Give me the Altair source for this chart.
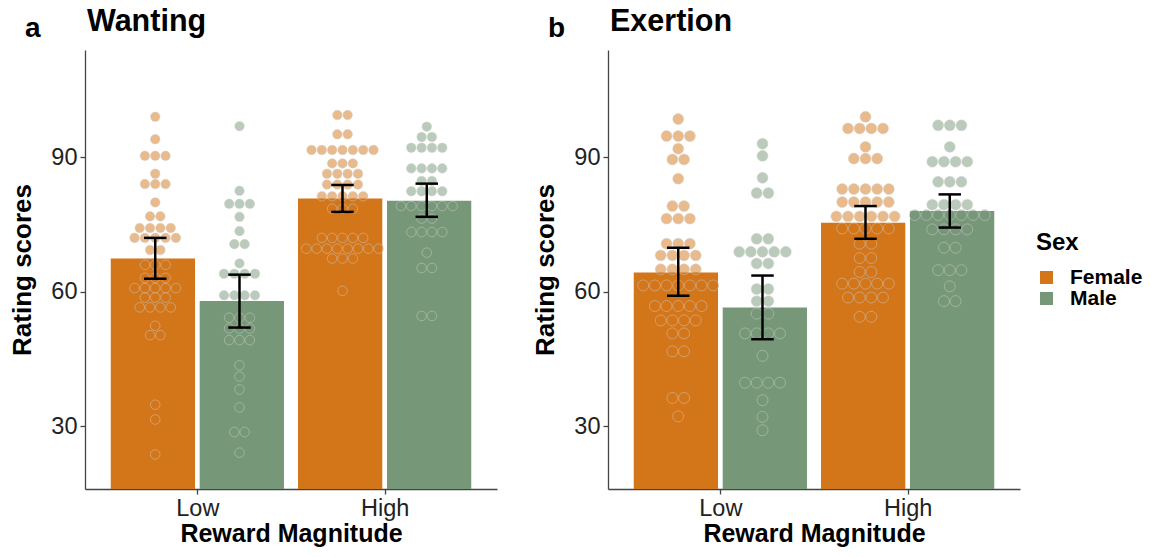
import altair as alt
import pandas as pd

FONT = "Liberation Sans"

panels = ["Wanting", "Exertion"]
panel_letters = ["a", "b"]
magnitudes = ["Low", "High"]
sexes = ["Female", "Male"]
sex_colors = ["#D37519", "#779878"]

# bar order: Low-Female, Low-Male, High-Female, High-Male
wanting_means = [67.4, 57.9, 80.8, 80.3]
wanting_ci_low = [62.9, 52.0, 77.8, 76.7]
wanting_ci_high = [72.0, 63.8, 83.8, 84.1]
exertion_means = [64.3, 56.5, 75.4, 78.0]
exertion_ci_low = [59.1, 49.4, 71.8, 74.3]
exertion_ci_high = [69.8, 63.6, 79.1, 81.7]

# individual rating scores (dot plots)
wanting_low_female = [99.0, 94.0, 90.3, 90.3, 90.3, 86.3, 84.0, 84.0, 84.0, 79.9,
                      76.8, 76.8, 74.2, 74.2, 74.2, 74.2, 72.0, 72.0, 72.0, 72.0, 72.0,
                      69.3, 69.3, 66.0, 66.0, 66.0, 63.1, 63.1, 63.1,
                      60.8, 60.8, 60.8, 60.8, 60.8, 58.7, 58.7, 58.7,
                      56.5, 56.5, 56.5, 56.5, 52.4, 50.3, 50.3, 34.8, 31.5, 23.7]
wanting_low_male = [96.9, 82.5, 79.6, 79.6, 79.6, 76.7, 73.5, 70.6, 70.6, 66.3,
                    64.0, 64.0, 64.0, 64.0, 59.2, 59.2, 59.2, 59.2, 54.2, 54.2, 54.2,
                    51.8, 51.8, 51.8, 49.2, 49.2, 49.2, 43.6, 41.1, 38.2, 34.2,
                    28.7, 28.7, 24.1]
wanting_high_female = [99.4, 99.4, 95.1, 95.1, 91.6, 91.6, 91.6, 91.6, 91.6, 91.6, 91.6,
                       88.6, 88.6, 88.6, 86.3, 86.3, 86.3, 86.3, 83.9, 83.9, 83.9, 83.9,
                       81.3, 81.3, 81.3, 81.3, 81.3, 78.5, 78.5, 78.5,
                       72.0, 72.0, 72.0, 72.0, 72.0,
                       69.6, 69.6, 69.6, 69.6, 69.6, 69.6, 69.6, 69.6,
                       67.4, 67.4, 67.4, 60.2]
wanting_high_male = [96.8, 94.5, 94.5, 92.1, 92.1, 92.1, 92.1, 87.5, 87.5, 87.5, 87.5,
                     84.7, 84.7, 82.4, 82.4, 82.4, 82.4, 79.1, 79.1, 79.1, 79.1, 79.1, 79.1,
                     76.3, 76.3, 73.3, 73.3, 73.3, 73.3, 68.7, 65.3, 65.3, 54.6, 54.6]
exertion_low_female = [98.5, 94.7, 94.7, 94.7, 91.9, 89.5, 89.5, 85.2, 79.1, 79.1,
                       76.3, 76.3, 76.3, 70.7, 70.7, 70.7, 68.1, 68.1, 68.1, 68.1,
                       65.0, 65.0, 65.0, 65.0, 61.4, 61.4, 61.4, 61.4, 61.4, 61.4, 61.4,
                       56.8, 56.8, 56.8, 56.8, 56.8, 53.6, 53.6, 53.6, 53.6,
                       50.7, 50.7, 46.7, 46.7, 36.3, 36.3, 32.2]
exertion_low_male = [93.0, 90.3, 85.4, 82.0, 82.0, 71.8, 71.8, 68.9, 68.9, 68.9, 68.9, 68.9,
                     66.3, 66.3, 60.6, 60.6, 57.9, 57.9, 55.1, 55.1,
                     50.7, 50.7, 50.7, 50.7, 45.7, 39.7, 39.7, 39.7, 39.7, 35.8, 32.1, 29.1]
exertion_high_female = [99.0, 96.4, 96.4, 96.4, 96.4, 92.3, 89.7, 89.7, 89.7,
                        82.9, 82.9, 82.9, 82.9, 82.9, 80.0, 80.0, 80.0, 80.0, 80.0,
                        76.8, 76.8, 76.8, 76.8, 76.8, 76.8, 74.1, 74.1, 74.1, 74.1, 74.1,
                        70.7, 70.7, 67.5, 67.5, 64.4, 64.4, 61.8, 61.8, 61.8, 61.8, 61.8,
                        58.7, 58.7, 58.7, 58.7, 54.4, 54.4]
exertion_high_male = [97.1, 97.1, 97.1, 92.3, 89.0, 89.0, 89.0, 89.0, 84.5, 84.5, 84.5,
                      79.4, 79.4, 79.4, 79.4, 77.1, 77.1, 77.1, 77.1, 77.1, 77.1, 77.1,
                      73.9, 73.9, 73.9, 73.9, 69.8, 69.8, 64.8, 64.8, 64.8, 61.2, 57.9, 57.9]

panel_data = {
    "Wanting": dict(means=wanting_means, lo=wanting_ci_low, hi=wanting_ci_high,
                    dots=[wanting_low_female, wanting_low_male, wanting_high_female, wanting_high_male],
                    spacing=0.0552, size=92),
    "Exertion": dict(means=exertion_means, lo=exertion_ci_low, hi=exertion_ci_high,
                     dots=[exertion_low_female, exertion_low_male, exertion_high_female, exertion_high_male],
                     spacing=0.0623, size=120),
}

color_scale = alt.Scale(domain=sexes, range=sex_colors)
legend = alt.Legend(title="Sex", orient="none", legendX=951, legendY=181,
                    titleFont=FONT, titleFontSize=24, titleFontWeight="bold", titleColor="black",
                    labelFont=FONT, labelFontSize=21, labelFontWeight="bold", labelColor="black",
                    symbolType="square", symbolSize=169, symbolStrokeWidth=0, symbolOpacity=1,
                    labelOffset=13, rowPadding=-2, titlePadding=12)

x_scale = alt.Scale(domain=[-0.6, 1.6], nice=False, zero=False)
y_scale = alt.Scale(domain=[16.0, 113.9], nice=False, zero=False)

MAG_IDX = "(datum.mag == 'Low' ? 0 : 1)"
SIGN = "(datum.sex == 'Female' ? -1 : 1)"


def make_panel(name, letter):
    p = panel_data[name]
    groups = [(m, s) for m in magnitudes for s in sexes]
    bar_df = pd.DataFrame({
        "mag": [g[0] for g in groups],
        "sex": [g[1] for g in groups],
        "mean": p["means"], "lo": p["lo"], "hi": p["hi"],
    })
    dot_rows = []
    for (m, s), vals in zip(groups, p["dots"]):
        for v in vals:
            dot_rows.append({"mag": m, "sex": s, "value": v})
    dot_df = pd.DataFrame(dot_rows)

    x_axis = alt.Axis(values=[0, 1], labelExpr="datum.value == 0 ? 'Low' : 'High'",
                      title="Reward Magnitude", grid=False, tickSize=5, tickColor="#444",
                      domainColor="#444", domainWidth=1.3, tickWidth=1.3,
                      labelFont=FONT, labelFontSize=23.5, labelColor="#222", labelPadding=2,
                      titleFont=FONT, titleFontSize=25, titleFontWeight="bold", titleColor="black",
                      titlePadding=2)
    y_axis = alt.Axis(values=[30, 60, 90], title="Rating scores", grid=False, tickSize=5,
                      tickColor="#444", domainColor="#444", domainWidth=1.3, tickWidth=1.3,
                      labelFont=FONT, labelFontSize=23.5, labelColor="#222", labelPadding=3,
                      titleFont=FONT, titleFontSize=26, titleFontWeight="bold", titleColor="black",
                      titlePadding=15)

    bars = alt.Chart(bar_df).transform_calculate(
        xc=f"{MAG_IDX} + {SIGN} * 0.2375"
    ).transform_calculate(
        xa="datum.xc - 0.225", xb="datum.xc + 0.225"
    ).mark_bar(clip=True).encode(
        x=alt.X("xa:Q", scale=x_scale, axis=x_axis),
        x2="xb:Q",
        y=alt.Y("mean:Q", scale=y_scale, axis=y_axis),
        y2=alt.datum(0),
        color=alt.Color("sex:N", scale=color_scale, legend=legend),
    )

    dots = alt.Chart(dot_df).transform_window(
        n="count()", k="row_number()", groupby=["mag", "sex", "value"], frame=[None, None]
    ).transform_calculate(
        xd=f"{MAG_IDX} + {SIGN} * 0.225 + (datum.k - 1 - (datum.n - 1) / 2) * {p['spacing']}"
    ).mark_point(filled=True, shape="circle", size=p["size"], fillOpacity=0.5,
                 stroke="#d0d0d0", strokeOpacity=0.45, strokeWidth=1).encode(
        x=alt.X("xd:Q", scale=x_scale, axis=x_axis),
        y=alt.Y("value:Q", scale=y_scale, axis=y_axis),
        color=alt.Color("sex:N", scale=color_scale, legend=legend),
    )

    err_base = alt.Chart(bar_df).transform_calculate(
        xe=f"{MAG_IDX} + {SIGN} * 0.225"
    ).transform_calculate(
        xl="datum.xe - 0.06", xr="datum.xe + 0.06"
    )
    err_v = err_base.mark_rule(color="black", strokeWidth=2.5).encode(
        x=alt.X("xe:Q", scale=x_scale), y=alt.Y("lo:Q", scale=y_scale), y2="hi:Q")
    err_top = err_base.mark_rule(color="black", strokeWidth=2.5).encode(
        x=alt.X("xl:Q", scale=x_scale), x2="xr:Q", y=alt.Y("hi:Q", scale=y_scale))
    err_bot = err_base.mark_rule(color="black", strokeWidth=2.5).encode(
        x=alt.X("xl:Q", scale=x_scale), x2="xr:Q", y=alt.Y("lo:Q", scale=y_scale))

    label_df = pd.DataFrame({"letter": [letter], "name": [name]})
    letter_mark = alt.Chart(label_df).mark_text(
        align="left", baseline="alphabetic", font=FONT, fontSize=28, fontWeight="bold", color="black"
    ).encode(text="letter:N", x=alt.value(-60), y=alt.value(-13))
    name_mark = alt.Chart(label_df).mark_text(
        align="left", baseline="alphabetic", font=FONT, fontSize=30.5, fontWeight="bold", color="black"
    ).encode(text="name:N", x=alt.value(2), y=alt.value(-19))

    return alt.layer(bars, dots, err_v, err_top, err_bot, letter_mark, name_mark).properties(
        width=412, height=439,
    )


chart = alt.hconcat(
    make_panel(panels[0], panel_letters[0]),
    make_panel(panels[1], panel_letters[1]),
    spacing=35,
).properties(
    padding={"left": 1, "top": -1, "right": 5, "bottom": 0},
    background="white",
).configure_view(strokeWidth=0, stroke="transparent")

chart.save("out.html", embed_options={"renderer": "svg", "actions": False})
